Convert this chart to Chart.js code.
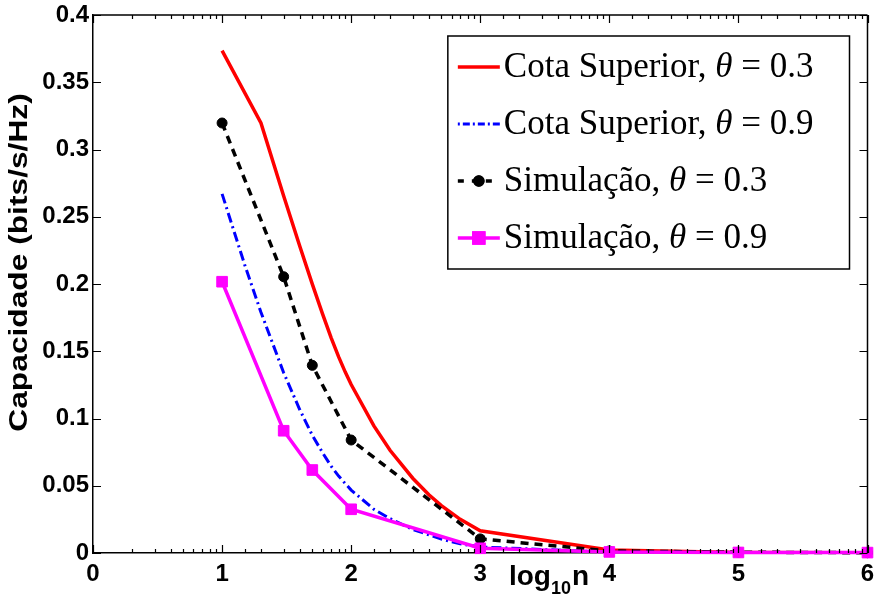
<!DOCTYPE html>
<html>
<head>
<meta charset="utf-8">
<script src="https://cdn.jsdelivr.net/npm/chart.js@4"></script>
<style>
  html, body { margin: 0; padding: 0; background: #fff; }
  #wrap { width: 876px; height: 602px; position: relative; }
</style>
</head>
<body>
<div id="wrap"><canvas id="capChart"></canvas></div>
<script>
// x axis is log10(n): the data is given in n, the axis is logarithmic
var nUpper03 = [10, 20, 30, 40, 50, 60, 70, 80, 90, 100, 150, 200, 300, 400, 500, 700, 1000, 10000, 100000, 1000000];
var upper03  = [0.3735, 0.3197, 0.2655, 0.228, 0.1999, 0.1778, 0.16, 0.1458, 0.1345, 0.1253, 0.0945, 0.0764, 0.0556, 0.0433, 0.0352, 0.025, 0.0165, 0.0022, 0.0004, 0.0001];

var nUpper09 = [10, 15, 20, 30, 40, 50, 60, 70, 80, 90, 100, 150, 200, 300, 400, 500, 700, 1000, 10000, 100000, 1000000];
var upper09  = [0.267, 0.214, 0.179, 0.134, 0.1065, 0.0875, 0.0746, 0.0645, 0.0572, 0.0516, 0.0468, 0.0325, 0.0256, 0.0175, 0.0135, 0.0104, 0.0068, 0.0045, 0.0006, 0.0001, 0.00002];

var nSim  = [10, 30, 50, 100, 1000, 10000, 100000, 1000000];
var sim03 = [0.3197, 0.2054, 0.1395, 0.084, 0.0105, 0.0015, 0.0006, 0.0002];
var sim09 = [0.2017, 0.0909, 0.0617, 0.0325, 0.0035, 0.0008, 0.0004, 0.0003];

var seriesNames = ['Cota Superior, ', 'Cota Superior, ', 'Simulação, ', 'Simulação, '];
var thetaValues = ['0.3', '0.9', '0.3', '0.9'];

var yTitle = 'Capacidade (bits/s/Hz)';
var xTitle = ['log', '10', 'n'];

var sansFont = '"Liberation Sans", Arial, Helvetica, sans-serif';
var serifFont = '"Liberation Serif", "Times New Roman", serif';

function pts(xs, ys) {
    return xs.map(function(x, i) { return { x: x, y: ys[i] }; });
}

function isDecade(v) {
    var l = Math.round(Math.log10(v));
    return Math.abs(Math.pow(10, l) - v) < 1e-6 * v ? l : null;
}

// frame, inward ticks, axis titles and the boxed legend
var decorPlugin = {
    id: 'decor',
    afterDraw: function(chart) {
        var ctx = chart.ctx;
        var ca = chart.chartArea;
        var xs = chart.scales.x, ys = chart.scales.y;

        ctx.save();
        ctx.strokeStyle = '#000';
        ctx.lineWidth = 1.5;
        ctx.beginPath();
        ctx.moveTo(ca.left, ca.top); ctx.lineTo(ca.right, ca.top);
        ctx.moveTo(ca.right, ca.top); ctx.lineTo(ca.right, ca.bottom);
        ctx.stroke();

        // ticks pointing inside the box
        ctx.lineWidth = 1.2;
        ctx.beginPath();
        xs.ticks.forEach(function(t) {
            var px = Math.round(xs.getPixelForValue(t.value)) + 0.5;
            var len = isDecade(t.value) !== null ? 8 : 4;
            ctx.moveTo(px, ca.bottom); ctx.lineTo(px, ca.bottom - len);
            ctx.moveTo(px, ca.top); ctx.lineTo(px, ca.top + len);
        });
        ys.ticks.forEach(function(t) {
            var py = Math.round(ys.getPixelForValue(t.value)) + 0.5;
            ctx.moveTo(ca.left, py); ctx.lineTo(ca.left + 8, py);
            ctx.moveTo(ca.right, py); ctx.lineTo(ca.right - 8, py);
        });
        ctx.stroke();

        // x title: log10 n with subscript
        ctx.fillStyle = '#000';
        ctx.textBaseline = 'alphabetic';
        ctx.textAlign = 'left';
        var tx = ca.left + (ca.right - ca.left) * 0.537;
        var ty = ca.bottom + 32;
        ctx.font = 'bold 28px ' + sansFont;
        ctx.fillText(xTitle[0], tx, ty);
        tx += ctx.measureText(xTitle[0]).width;
        ctx.font = 'bold 18px ' + sansFont;
        ctx.fillText(xTitle[1], tx, ty + 9);
        tx += ctx.measureText(xTitle[1]).width + 1;
        ctx.font = 'bold 28px ' + sansFont;
        ctx.fillText(xTitle[2], tx, ty);

        // y title
        ctx.save();
        ctx.translate(20, ca.top + (ca.bottom - ca.top) * 0.46);
        ctx.rotate(-Math.PI / 2);
        ctx.scale(1.22, 1);
        ctx.font = 'bold 26px ' + sansFont;
        ctx.textAlign = 'center';
        ctx.textBaseline = 'middle';
        ctx.fillText(yTitle, 0, 0);
        ctx.restore();

        // legend
        var fontN = '35px ' + serifFont;
        var fontI = 'italic 35px ' + serifFont;
        var widths = seriesNames.map(function(name, i) {
            ctx.font = fontN;
            var w = ctx.measureText(name).width + ctx.measureText(' = ' + thetaValues[i]).width;
            ctx.font = fontI;
            return w + ctx.measureText('θ').width;
        });
        var maxW = Math.max.apply(null, widths);
        var boxW = 10 + 42 + 4 + maxW + 36;
        var rowH = 57;
        var boxH = 31 * 2 + rowH * 3;
        var bx = ca.right - 18 - boxW;
        var by = ca.top + 21;
        ctx.fillStyle = '#fff';
        ctx.fillRect(bx, by, boxW, boxH);
        ctx.strokeStyle = '#000';
        ctx.lineWidth = 1.5;
        ctx.setLineDash([]);
        ctx.strokeRect(bx, by, boxW, boxH);

        chart.data.datasets.forEach(function(ds, i) {
            var cy = by + 31 + i * rowH;
            ctx.save();
            ctx.strokeStyle = ds.borderColor;
            ctx.lineWidth = ds.borderWidth;
            ctx.setLineDash(ds.legendDash || []);
            ctx.beginPath();
            ctx.moveTo(bx + 10, cy); ctx.lineTo(bx + 52, cy);
            ctx.stroke();
            ctx.setLineDash([]);
            if (ds.pointRadius > 0) {
                Chart.helpers.drawPoint(ctx, {
                    pointStyle: ds.pointStyle,
                    radius: ds.legendPointRadius,
                    borderWidth: 1,
                    rotation: 0
                }, bx + 31, cy);
                ctx.fillStyle = ds.pointBackgroundColor;
                ctx.strokeStyle = ds.pointBorderColor;
                ctx.fill();
                ctx.stroke();
            }
            ctx.restore();

            ctx.fillStyle = '#000';
            ctx.textBaseline = 'alphabetic';
            ctx.textAlign = 'left';
            var x = bx + 56, y = cy + 10;
            ctx.font = fontN;
            ctx.fillText(seriesNames[i], x, y);
            x += ctx.measureText(seriesNames[i]).width;
            ctx.font = fontI;
            ctx.fillText('θ', x, y);
            x += ctx.measureText('θ').width;
            ctx.font = fontN;
            ctx.fillText(' = ' + thetaValues[i], x, y);
        });
        ctx.restore();
    }
};

new Chart(document.getElementById('capChart'), {
    type: 'line',
    data: {
        datasets: [
            {
                label: seriesNames[0] + 'θ = ' + thetaValues[0],
                data: pts(nUpper03, upper03),
                borderColor: '#ff0000',
                borderWidth: 3.5,
                pointRadius: 0,
                order: 4
            },
            {
                label: seriesNames[1] + 'θ = ' + thetaValues[1],
                data: pts(nUpper09, upper09),
                borderColor: '#0000ff',
                borderWidth: 3,
                borderDash: [10, 4, 2, 4],
                legendDash: [2, 3, 7, 3, 2, 3, 7, 3],
                pointRadius: 0,
                order: 3
            },
            {
                label: seriesNames[2] + 'θ = ' + thetaValues[2],
                data: pts(nSim, sim03),
                borderColor: '#000000',
                borderWidth: 3.5,
                borderDash: [8, 6],
                legendDash: [6, 8],
                pointStyle: 'circle',
                pointRadius: 5,
                legendPointRadius: 4,
                pointBorderWidth: 1,
                pointBackgroundColor: '#000',
                pointBorderColor: '#000',
                clip: false,
                order: 2
            },
            {
                label: seriesNames[3] + 'θ = ' + thetaValues[3],
                data: pts(nSim, sim09),
                borderColor: '#ff00ff',
                borderWidth: 3.5,
                pointStyle: 'rect',
                pointRadius: 7.5,
                legendPointRadius: 7,
                pointBorderWidth: 1,
                pointBackgroundColor: '#ff00ff',
                pointBorderColor: '#ff00ff',
                clip: false,
                order: 1
            }
        ]
    },
    options: {
        responsive: true,
        maintainAspectRatio: false,
        animation: false,
        layout: { padding: { left: 0, top: 15, right: 7, bottom: 0 } },
        plugins: {
            legend: { display: false },
            tooltip: { enabled: false }
        },
        scales: {
            x: {
                type: 'logarithmic',
                min: 1,
                max: 1000000,
                grid: { display: false, drawTicks: false },
                border: { display: true, color: '#000', width: 1.5 },
                ticks: {
                    autoSkip: false,
                    maxRotation: 0,
                    padding: 7,
                    color: '#000',
                    font: { family: sansFont, size: 24, weight: 'bold' },
                    callback: function(v) {
                        var l = isDecade(v);
                        return l === null ? '' : String(l);
                    }
                },
                afterFit: function(s) { s.height = 49; s.paddingLeft = 0; s.paddingRight = 0; }
            },
            y: {
                type: 'linear',
                min: 0,
                max: 0.4,
                grid: { display: false, drawTicks: false },
                border: { display: true, color: '#000', width: 1.5 },
                ticks: {
                    stepSize: 0.05,
                    padding: 4,
                    color: '#000',
                    font: { family: sansFont, size: 24, weight: 'bold' },
                    callback: function(v) { return String(+v.toFixed(2)); }
                },
                afterFit: function(s) { s.width = 93; s.paddingTop = 0; s.paddingBottom = 0; }
            }
        }
    },
    plugins: [decorPlugin]
});
</script>
</body>
</html>
